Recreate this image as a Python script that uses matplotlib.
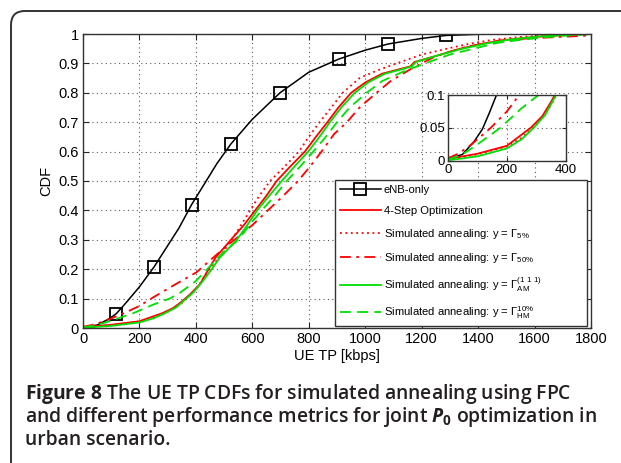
import matplotlib
matplotlib.use('Agg')
import matplotlib.pyplot as plt
from matplotlib.patches import FancyBboxPatch
from matplotlib.transforms import IdentityTransform

plt.rcParams['font.family'] = ['Liberation Sans', 'DejaVu Sans']
plt.rcParams['mathtext.fontset'] = 'custom'
plt.rcParams['mathtext.rm'] = 'Liberation Sans'
plt.rcParams['mathtext.it'] = 'Open Sans:italic:bold'
plt.rcParams['mathtext.bf'] = 'Open Sans:bold'

# valeurs (UE TP en kbps, CDF)
enb_x = [0, 50, 64, 90, 117, 140, 165, 200, 252, 300, 340, 385, 430, 475, 524, 600,
         698, 800, 907, 1000, 1081, 1200, 1286, 1400, 1500, 1800]
enb_y = [0.003, 0.01, 0.017, 0.03, 0.048, 0.072, 0.1, 0.14, 0.208, 0.28, 0.34, 0.42, 0.49,
         0.56, 0.626, 0.71, 0.80, 0.87, 0.915, 0.945, 0.966, 0.985, 0.995, 0.999, 1.0, 1.0]
enb_marks = [4, 8, 11, 14, 16, 18, 20, 22]

step4_x = [0, 100, 200, 250, 280, 320, 350, 380, 415, 445, 470, 533, 570, 610, 650, 686,
           735, 786, 825, 866, 905, 950, 1000, 1060, 1120, 1160, 1175, 1250, 1336, 1420,
           1500, 1600, 1700, 1800]
step4_y = [0.003, 0.011, 0.023, 0.04, 0.05, 0.068, 0.09, 0.115, 0.15, 0.2, 0.24, 0.31,
           0.35, 0.40, 0.45, 0.50, 0.55, 0.60, 0.65, 0.70, 0.75, 0.80, 0.835, 0.865, 0.88,
           0.89, 0.905, 0.925, 0.95, 0.968, 0.98, 0.99, 0.996, 1.0]

g5_x = [0, 100, 200, 250, 300, 350, 400, 440, 490, 527, 560, 592, 625, 663, 715, 765,
        800, 838, 880, 920, 980, 1040, 1111, 1200, 1289, 1370, 1450, 1550, 1650, 1800]
g5_y = [0.002, 0.01, 0.022, 0.035, 0.055, 0.085, 0.13, 0.19, 0.25, 0.30, 0.35, 0.40,
        0.45, 0.50, 0.55, 0.60, 0.65, 0.70, 0.75, 0.80, 0.85, 0.875, 0.90, 0.93, 0.95,
        0.967, 0.98, 0.99, 0.996, 1.0]

g50_x = [0, 40, 80, 145, 200, 250, 330, 403, 450, 510, 550, 600, 655, 710, 762, 805,
         845, 890, 935, 980, 1040, 1090, 1160, 1240, 1300, 1360, 1477, 1595, 1713, 1800]
g50_y = [0.004, 0.012, 0.025, 0.05, 0.075, 0.105, 0.15, 0.19, 0.23, 0.28, 0.31, 0.35,
         0.40, 0.45, 0.50, 0.55, 0.60, 0.66, 0.70, 0.75, 0.80, 0.84, 0.88, 0.92, 0.94,
         0.957, 0.978, 0.986, 0.991, 0.995]

am_x = [0, 100, 200, 250, 290, 330, 360, 390, 425, 456, 485, 545, 582, 617, 660, 704,
        750, 798, 838, 875, 915, 963, 1010, 1070, 1130, 1165, 1180, 1260, 1345, 1430,
        1520, 1620, 1720, 1800]
am_y = [0.001, 0.007, 0.019, 0.033, 0.05, 0.07, 0.095, 0.12, 0.16, 0.2, 0.24, 0.30,
        0.35, 0.40, 0.45, 0.50, 0.55, 0.60, 0.65, 0.70, 0.75, 0.80, 0.835, 0.865, 0.88,
        0.89, 0.905, 0.928, 0.95, 0.968, 0.982, 0.992, 0.997, 1.0]

hm_x = [0, 50, 100, 177, 250, 307, 344, 400, 450, 500, 550, 590, 633, 680, 722, 770,
        816, 860, 900, 945, 1005, 1060, 1130, 1212, 1300, 1383, 1470, 1550, 1650, 1750, 1800]
hm_y = [0.002, 0.01, 0.025, 0.05, 0.08, 0.1, 0.12, 0.16, 0.21, 0.26, 0.30, 0.35, 0.40,
        0.45, 0.50, 0.55, 0.60, 0.65, 0.70, 0.75, 0.80, 0.84, 0.87, 0.90, 0.93, 0.95,
        0.97, 0.98, 0.99, 0.997, 1.0]

labels = ['eNB-only',
          '4-Step Optimization',
          r'Simulated annealing: y = $\Gamma_{5\%}$',
          r'Simulated annealing: y = $\Gamma_{50\%}$',
          r'Simulated annealing: y = $\Gamma_{\mathrm{AM}}^{(1\ 1\ 1)}$',
          r'Simulated annealing: y = $\Gamma_{\mathrm{HM}}^{10\%}$']

x_ticks = [0, 200, 400, 600, 800, 1000, 1200, 1400, 1600, 1800]
y_ticks = [0, 0.1, 0.2, 0.3, 0.4, 0.5, 0.6, 0.7, 0.8, 0.9, 1]
y_ticklabels = ['0', '0.1', '0.2', '0.3', '0.4', '0.5', '0.6', '0.7', '0.8', '0.9', '1']
inset_xticks = [0, 200, 400]
inset_yticks = [0, 0.05, 0.1]
inset_yticklabels = ['0', '0.05', '0.1']

caption = [r'$\mathbf{Figure\ 8}$ The UE TP CDFs for simulated annealing using FPC',
           r'and different performance metrics for joint $P_\mathbf{0}$ optimization in',
           'urban scenario.']

RED = '#ff0000'
GREEN = '#00e000'


def draw_curves(a, markers=True):
    lines = []
    lines += a.plot(enb_x, enb_y, color='k', lw=1.1, marker='s' if markers else None,
                    markevery=enb_marks, ms=9, mfc='none', mec='k', mew=1.3)
    lines += a.plot(step4_x, step4_y, color=RED, lw=1.3, ls='-')
    lines += a.plot(g5_x, g5_y, color=RED, lw=1.3, ls=(0, (1, 2)))
    lines += a.plot(g50_x, g50_y, color=RED, lw=1.3, ls=(0, (6, 3, 1.5, 3)))
    lines += a.plot(am_x, am_y, color=GREEN, lw=1.3, ls='-')
    lines += a.plot(hm_x, hm_y, color=GREEN, lw=1.3, ls=(0, (6, 3.5)))
    return lines


def matlab_style(a, fs):
    a.grid(True, ls=(0, (1, 3)), color='0.35', lw=0.8)
    a.tick_params(direction='in', top=True, right=True, length=4, width=0.8,
                  labelsize=fs, pad=3, colors='0.15', labelcolor='k')
    for s in a.spines.values():
        s.set_linewidth(1.0)
        s.set_color('0.2')


fig = plt.figure(figsize=(6.21, 4.63), dpi=100)

# cadre arrondi autour de la figure
frame = FancyBboxPatch((11, -60), 700, 463 - 11 + 60, boxstyle='round,pad=0,rounding_size=14',
                       transform=IdentityTransform(), fill=False, ec='0.2', lw=1.4)
fig.patches.append(frame)

ax = fig.add_axes([83 / 621, 1 - 328 / 463, 508 / 621, 294 / 463])
handles = draw_curves(ax)
ax.set_xlim(0, 1800)
ax.set_ylim(0, 1)
ax.set_xticks(x_ticks)
ax.set_yticks(y_ticks)
ax.set_yticklabels(y_ticklabels)
matlab_style(ax, 10.5)
ax.set_xlabel('UE TP [kbps]', fontsize=10.5, labelpad=2)
ax.set_ylabel('CDF', fontsize=10.5, labelpad=4)

leg = ax.legend(handles, labels, loc='upper left', bbox_to_anchor=(0.496, 0.017, 0.496, 0.486),
                mode='expand', fontsize=8.1, handlelength=3.6, labelspacing=0.95,
                borderpad=0.45, handletextpad=0.3, borderaxespad=0, fancybox=False,
                framealpha=1, edgecolor='0.2')
leg.get_frame().set_linewidth(1.0)

# zoom sur le bas des courbes
ax2 = fig.add_axes([447.7 / 621, 1 - 161 / 463, 118.3 / 621, 66 / 463])
draw_curves(ax2, markers=False)
ax2.set_xlim(0, 400)
ax2.set_ylim(0, 0.1)
ax2.set_xticks(inset_xticks)
ax2.set_yticks(inset_yticks)
ax2.set_yticklabels(inset_yticklabels)
matlab_style(ax2, 9.5)
ax2.tick_params(length=3, pad=2)

for i, line in enumerate(caption):
    fig.text(25 / 621, 1 - (399 + 23 * i) / 463, line, family='Open Sans',
             weight='semibold', fontsize=13.9, color='#231f20')

fig.savefig('out.png', dpi=100)
